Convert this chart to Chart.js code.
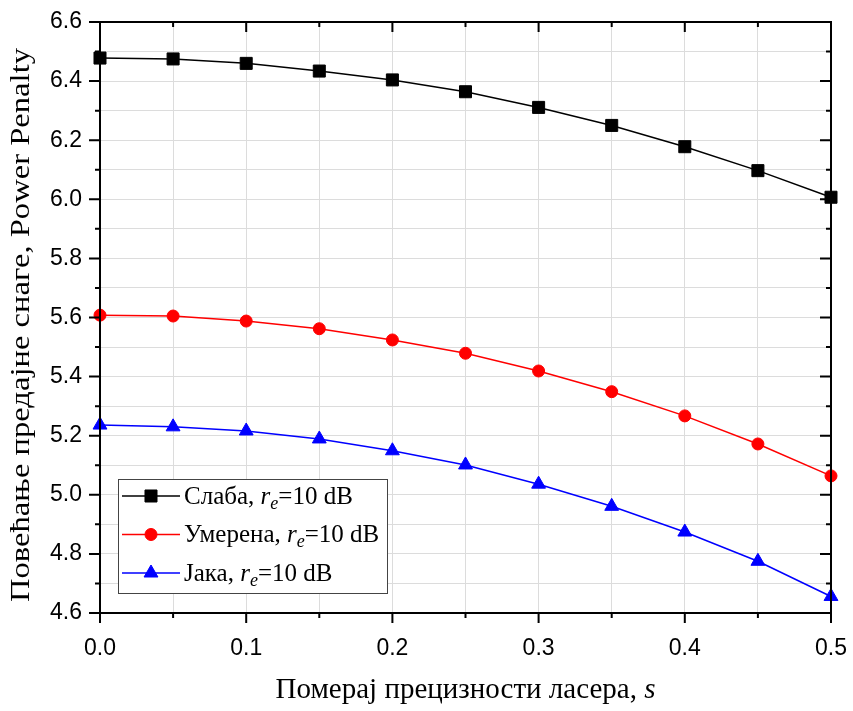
<!DOCTYPE html>
<html>
<head>
<meta charset="utf-8">
<title>Power Penalty</title>
<script src="https://cdn.jsdelivr.net/npm/chart.js"></script>
<style>
    html, body { margin: 0; padding: 0; background: #fff; }
    #chart { display: block; }
</style>
</head>
<body>
<canvas id="chart" width="853" height="711"></canvas>
<script>
    // s values (x axis)
    const sValues = [0, 0.05, 0.1, 0.15, 0.2, 0.25, 0.3, 0.35, 0.4, 0.45, 0.5];
    // power penalty series
    const slabaValues   = [6.478, 6.475, 6.460, 6.434, 6.404, 6.364, 6.311, 6.250, 6.178, 6.097, 6.007];
    const umerenaValues = [5.608, 5.605, 5.588, 5.562, 5.524, 5.479, 5.419, 5.349, 5.267, 5.172, 5.064];
    const jakaValues    = [5.236, 5.230, 5.216, 5.189, 5.149, 5.101, 5.036, 4.961, 4.874, 4.775, 4.656];
    const seriesNames = ['Слаба', 'Умерена', 'Јака'];
    const seriesSuffix = '=10 dB';
    const xTitle = 'Померај прецизности ласера, ';
    const xTitleVar = 's';
    const yTitle = 'Повећање предајне снаге, Power Penalty';

    const serif = '"Liberation Serif", "Times New Roman", serif';
    const sans = '"Liberation Sans", Arial, sans-serif';

    function pts(vals) {
        return sValues.map((s, i) => ({ x: s, y: vals[i] }));
    }

    // draws text pieces with italic / subscript parts
    function richText(ctx, parts, x, y, size) {
        parts.forEach(p => {
            ctx.font = (p.italic ? 'italic ' : '') + (p.sub ? size * 0.72 : size) + 'px ' + serif;
            ctx.fillText(p.t, x, y + (p.sub ? size * 0.28 : 0));
            x += ctx.measureText(p.t).width;
        });
        return x;
    }

    const framePlugin = {
        id: 'frame',
        afterDraw(chart) {
            const ctx = chart.ctx;
            const a = chart.chartArea;
            const xs = chart.scales.x, ys = chart.scales.y;
            ctx.save();

            // ticks on all four sides
            ctx.strokeStyle = '#000';
            ctx.lineWidth = 2;
            ctx.beginPath();
            xs.ticks.forEach(t => {
                const px = xs.getPixelForValue(t.value);
                const major = Math.round(t.value * 100) % 10 === 0;
                const len = major ? 10 : 5;
                ctx.moveTo(px, a.bottom); ctx.lineTo(px, a.bottom + len);
                ctx.moveTo(px, a.top); ctx.lineTo(px, a.top + len);
            });
            ys.ticks.forEach(t => {
                const py = ys.getPixelForValue(t.value);
                const major = Math.round(t.value * 10) % 2 === 0;
                const len = major ? 11 : 5;
                ctx.moveTo(a.left, py); ctx.lineTo(a.left - len, py);
                ctx.moveTo(a.right, py); ctx.lineTo(a.right - len, py);
            });
            ctx.stroke();
            ctx.strokeRect(a.left, a.top, a.right - a.left, a.bottom - a.top);

            // axis titles
            ctx.fillStyle = '#000';
            ctx.textBaseline = 'alphabetic';
            ctx.font = '29px ' + serif;
            const w1 = ctx.measureText(xTitle).width;
            ctx.font = 'italic 29px ' + serif;
            const w2 = ctx.measureText(xTitleVar).width;
            const cx = (a.left + a.right) / 2;
            ctx.textAlign = 'left';
            richText(ctx, [{ t: xTitle }, { t: xTitleVar, italic: true }], cx - (w1 + w2) / 2, 698, 29);

            ctx.save();
            ctx.font = '28px ' + serif;
            const yw = ctx.measureText(yTitle).width;
            ctx.translate(22, 325);
            ctx.rotate(-Math.PI / 2);
            ctx.scale(554 / yw, 1);
            ctx.textAlign = 'center';
            ctx.textBaseline = 'middle';
            ctx.fillText(yTitle, 0, 0);
            ctx.restore();

            // legend box
            const bx = a.left + 18, bw = 269, bh = 114;
            const by = a.bottom - 20 - bh;
            ctx.fillStyle = '#fff';
            ctx.fillRect(bx, by, bw, bh);
            ctx.strokeStyle = '#444';
            ctx.lineWidth = 1;
            ctx.strokeRect(bx + 0.5, by + 0.5, bw, bh);
            chart.data.datasets.forEach((ds, i) => {
                const ry = by + 17 + i * 38.5;
                ctx.strokeStyle = ds.borderColor;
                ctx.lineWidth = ds.borderWidth;
                ctx.beginPath();
                ctx.moveTo(bx + 4, ry); ctx.lineTo(bx + 62, ry);
                ctx.stroke();
                ctx.fillStyle = ds.pointBackgroundColor;
                ctx.strokeStyle = ds.pointBorderColor;
                ctx.lineWidth = 1;
                Chart.helpers.drawPoint(ctx, {
                    pointStyle: ds.pointStyle, radius: ds.pointRadius, rotation: 0, borderWidth: 1
                }, bx + 33, ry);
                ctx.fillStyle = '#000';
                ctx.textAlign = 'left';
                ctx.textBaseline = 'middle';
                richText(ctx, [
                    { t: seriesNames[i] + ', ' },
                    { t: 'r', italic: true },
                    { t: 'e', italic: true, sub: true },
                    { t: seriesSuffix }
                ], bx + 66, ry + 1, 25);
            });
            ctx.restore();
        }
    };

    function series(label, vals, color, style, radius) {
        return {
            label: label,
            data: pts(vals),
            borderColor: color,
            backgroundColor: color,
            borderWidth: 1.5,
            pointStyle: style,
            pointRadius: radius,
            pointBackgroundColor: color,
            pointBorderColor: color,
            pointBorderWidth: 1,
            tension: 0,
            clip: false
        };
    }

    new Chart(document.getElementById('chart').getContext('2d'), {
        type: 'line',
        data: {
            datasets: [
                series(seriesNames[0], slabaValues, '#000000', 'rect', 8.5),
                series(seriesNames[1], umerenaValues, '#ff0000', 'circle', 6),
                series(seriesNames[2], jakaValues, '#0000ff', 'triangle', 8)
            ]
        },
        options: {
            responsive: false,
            animation: false,
            devicePixelRatio: 1,
            layout: { padding: { left: 0, top: 22, right: 22, bottom: 0 } },
            plugins: {
                legend: { display: false },
                tooltip: { enabled: false }
            },
            scales: {
                x: {
                    type: 'linear',
                    min: 0,
                    max: 0.5,
                    afterFit(scale) {
                        scale.height = 98;
                        scale.paddingLeft = 0;
                        scale.paddingRight = 0;
                    },
                    border: { display: false },
                    grid: { color: '#dcdcdc', lineWidth: 1, drawTicks: false },
                    ticks: {
                        stepSize: 0.05,
                        autoSkip: false,
                        maxRotation: 0,
                        padding: 22,
                        color: '#000',
                        font: { family: sans, size: 23 },
                        callback: v => Math.round(v * 100) % 10 === 0 ? v.toFixed(1) : ''
                    }
                },
                y: {
                    type: 'linear',
                    min: 4.6,
                    max: 6.6,
                    afterFit(scale) {
                        scale.width = 100;
                        scale.paddingTop = 0;
                        scale.paddingBottom = 0;
                    },
                    border: { display: false },
                    grid: { color: '#dcdcdc', lineWidth: 1, drawTicks: false },
                    ticks: {
                        stepSize: 0.1,
                        autoSkip: false,
                        padding: 18,
                        color: '#000',
                        font: { family: sans, size: 23 },
                        callback: v => Math.round(v * 10) % 2 === 0 ? v.toFixed(1) : ''
                    }
                }
            }
        },
        plugins: [framePlugin]
    });
</script>
</body>
</html>
